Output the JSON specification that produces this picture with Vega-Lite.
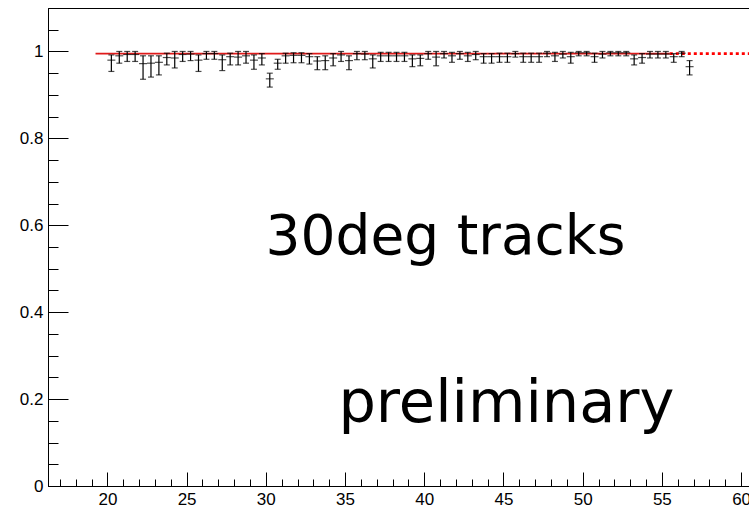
{
  "$schema": "https://vega.github.io/schema/vega-lite/v6.json",
  "width": 701,
  "height": 478,
  "autosize": {"type": "none"},
  "padding": {"left": 48, "top": 8, "right": 0, "bottom": 24},
  "background": "white",
  "config": {
    "view": {"stroke": "black", "strokeWidth": 1},
    "font": "Liberation Sans"
  },
  "datasets": {
    "eff": [
      {"x": 20.25, "y": 0.980, "lo": 0.954, "hi": 0.992},
      {"x": 20.75, "y": 0.990, "lo": 0.973, "hi": 1.0},
      {"x": 21.25, "y": 0.993, "lo": 0.977, "hi": 1.0},
      {"x": 21.75, "y": 0.993, "lo": 0.977, "hi": 1.0},
      {"x": 22.25, "y": 0.972, "lo": 0.936, "hi": 0.990},
      {"x": 22.75, "y": 0.973, "lo": 0.941, "hi": 0.990},
      {"x": 23.25, "y": 0.975, "lo": 0.946, "hi": 0.990},
      {"x": 23.75, "y": 0.986, "lo": 0.969, "hi": 0.996},
      {"x": 24.25, "y": 0.985, "lo": 0.962, "hi": 1.0},
      {"x": 24.75, "y": 0.993, "lo": 0.977, "hi": 1.0},
      {"x": 25.25, "y": 0.994, "lo": 0.979, "hi": 1.0},
      {"x": 25.75, "y": 0.980, "lo": 0.954, "hi": 0.992},
      {"x": 26.25, "y": 0.995, "lo": 0.982, "hi": 1.0},
      {"x": 26.75, "y": 0.995, "lo": 0.982, "hi": 1.0},
      {"x": 27.25, "y": 0.981, "lo": 0.956, "hi": 0.992},
      {"x": 27.75, "y": 0.988, "lo": 0.969, "hi": 0.996},
      {"x": 28.25, "y": 0.987, "lo": 0.969, "hi": 1.0},
      {"x": 28.75, "y": 0.990, "lo": 0.973, "hi": 1.0},
      {"x": 29.25, "y": 0.980, "lo": 0.959, "hi": 0.992},
      {"x": 29.75, "y": 0.985, "lo": 0.969, "hi": 0.995},
      {"x": 30.25, "y": 0.937, "lo": 0.918, "hi": 0.950},
      {"x": 30.75, "y": 0.973, "lo": 0.959, "hi": 0.982},
      {"x": 31.25, "y": 0.990, "lo": 0.973, "hi": 0.996},
      {"x": 31.75, "y": 0.991, "lo": 0.974, "hi": 0.997},
      {"x": 32.25, "y": 0.991, "lo": 0.974, "hi": 0.997},
      {"x": 32.75, "y": 0.988, "lo": 0.971, "hi": 0.995},
      {"x": 33.25, "y": 0.978, "lo": 0.958, "hi": 0.988},
      {"x": 33.75, "y": 0.979, "lo": 0.958, "hi": 0.990},
      {"x": 34.25, "y": 0.985, "lo": 0.967, "hi": 0.995},
      {"x": 34.75, "y": 0.992, "lo": 0.977, "hi": 1.0},
      {"x": 35.25, "y": 0.979, "lo": 0.958, "hi": 0.990},
      {"x": 35.75, "y": 0.995, "lo": 0.981, "hi": 1.0},
      {"x": 36.25, "y": 0.994, "lo": 0.981, "hi": 1.0},
      {"x": 36.75, "y": 0.983, "lo": 0.962, "hi": 0.992},
      {"x": 37.25, "y": 0.990, "lo": 0.977, "hi": 0.998},
      {"x": 37.75, "y": 0.990, "lo": 0.977, "hi": 0.998},
      {"x": 38.25, "y": 0.990, "lo": 0.977, "hi": 0.998},
      {"x": 38.75, "y": 0.990, "lo": 0.977, "hi": 0.998},
      {"x": 39.25, "y": 0.983, "lo": 0.965, "hi": 0.992},
      {"x": 39.75, "y": 0.984, "lo": 0.967, "hi": 0.992},
      {"x": 40.25, "y": 0.995, "lo": 0.982, "hi": 1.0},
      {"x": 40.75, "y": 0.987, "lo": 0.967, "hi": 1.0},
      {"x": 41.25, "y": 0.995, "lo": 0.985, "hi": 1.0},
      {"x": 41.75, "y": 0.990, "lo": 0.975, "hi": 0.998},
      {"x": 42.25, "y": 0.995, "lo": 0.982, "hi": 1.0},
      {"x": 42.75, "y": 0.990, "lo": 0.977, "hi": 0.998},
      {"x": 43.25, "y": 0.993, "lo": 0.981, "hi": 1.0},
      {"x": 43.75, "y": 0.988, "lo": 0.973, "hi": 0.995},
      {"x": 44.25, "y": 0.988, "lo": 0.973, "hi": 0.995},
      {"x": 44.75, "y": 0.988, "lo": 0.975, "hi": 0.996},
      {"x": 45.25, "y": 0.988, "lo": 0.975, "hi": 0.996},
      {"x": 45.75, "y": 0.995, "lo": 0.987, "hi": 1.0},
      {"x": 46.25, "y": 0.988, "lo": 0.975, "hi": 0.996},
      {"x": 46.75, "y": 0.988, "lo": 0.975, "hi": 0.996},
      {"x": 47.25, "y": 0.988, "lo": 0.975, "hi": 0.996},
      {"x": 47.75, "y": 0.996, "lo": 0.988, "hi": 1.0},
      {"x": 48.25, "y": 0.990, "lo": 0.977, "hi": 0.998},
      {"x": 48.75, "y": 0.994, "lo": 0.985, "hi": 1.0},
      {"x": 49.25, "y": 0.988, "lo": 0.973, "hi": 0.998},
      {"x": 49.75, "y": 0.997, "lo": 0.990, "hi": 1.0},
      {"x": 50.25, "y": 0.997, "lo": 0.990, "hi": 1.0},
      {"x": 50.75, "y": 0.988, "lo": 0.975, "hi": 0.996},
      {"x": 51.25, "y": 0.994, "lo": 0.985, "hi": 1.0},
      {"x": 51.75, "y": 0.997, "lo": 0.990, "hi": 1.0},
      {"x": 52.25, "y": 0.997, "lo": 0.990, "hi": 1.0},
      {"x": 52.75, "y": 0.997, "lo": 0.990, "hi": 1.0},
      {"x": 53.25, "y": 0.983, "lo": 0.969, "hi": 0.992},
      {"x": 53.75, "y": 0.986, "lo": 0.973, "hi": 0.995},
      {"x": 54.25, "y": 0.994, "lo": 0.985, "hi": 1.0},
      {"x": 54.75, "y": 0.994, "lo": 0.985, "hi": 1.0},
      {"x": 55.25, "y": 0.994, "lo": 0.985, "hi": 1.0},
      {"x": 55.75, "y": 0.988, "lo": 0.975, "hi": 0.995},
      {"x": 56.25, "y": 0.996, "lo": 0.988, "hi": 1.0},
      {"x": 56.75, "y": 0.965, "lo": 0.946, "hi": 0.979}
    ]
  },
  "encoding": {
    "x": {
      "field": "x",
      "type": "quantitative",
      "scale": {"domain": [16.25, 60.5], "nice": false, "zero": false},
      "axis": {
        "title": null,
        "grid": false,
        "values": [17, 18, 19, 20, 21, 22, 23, 24, 25, 26, 27, 28, 29, 30, 31, 32, 33, 34, 35, 36, 37, 38, 39, 40, 41, 42, 43, 44, 45, 46, 47, 48, 49, 50, 51, 52, 53, 54, 55, 56, 57, 58, 59, 60],
        "tickSize": {"condition": {"test": "datum.value % 5 === 0", "value": -14}, "value": -7},
        "labelExpr": "datum.value % 5 === 0 ? datum.label : ''",
        "labelOverlap": false,
        "labelFlush": false,
        "labelBound": false,
        "labelPadding": 19,
        "labelFont": "Liberation Sans",
        "labelFontSize": 17,
        "labelColor": "black",
        "tickColor": "black",
        "domainColor": "black",
        "tickWidth": 1,
        "domainWidth": 1
      }
    },
    "y": {
      "field": "y",
      "type": "quantitative",
      "scale": {"domain": [0, 1.1], "nice": false, "zero": false},
      "axis": {
        "title": null,
        "grid": false,
        "values": [0, 0.05, 0.1, 0.15, 0.2, 0.25, 0.3, 0.35, 0.4, 0.45, 0.5, 0.55, 0.6, 0.65, 0.7, 0.75, 0.8, 0.85, 0.9, 0.95, 1, 1.05, 1.1],
        "tickSize": {"condition": {"test": "abs(datum.value * 5 - round(datum.value * 5)) < 0.001", "value": -20}, "value": -10},
        "labelExpr": "abs(datum.value * 5 - round(datum.value * 5)) < 0.001 && datum.value < 1.05 ? format(datum.value, '~g') : ''",
        "labelOverlap": false,
        "labelFlush": false,
        "labelBound": false,
        "labelPadding": 25,
        "labelFont": "Liberation Sans",
        "labelFontSize": 17,
        "labelColor": "black",
        "tickColor": "black",
        "domainColor": "black",
        "tickWidth": 1,
        "domainWidth": 1
      }
    }
  },
  "layer": [
    {
      "data": {"values": [{"x": 19.25, "x2": 55.5, "y": 0.995}]},
      "mark": {"type": "rule", "color": "#e01a1a", "strokeWidth": 1.6},
      "encoding": {"x2": {"field": "x2"}}
    },
    {
      "data": {"values": [{"x": 55.5, "x2": 60.5, "y": 0.995}]},
      "mark": {"type": "rule", "color": "#ff0000", "strokeWidth": 2.6, "strokeDash": [3, 3]},
      "encoding": {"x2": {"field": "x2"}}
    },
    {
      "data": {"name": "eff"},
      "mark": {"type": "tick", "orient": "horizontal", "color": "black", "size": 8, "thickness": 1.2}
    },
    {
      "data": {"name": "eff"},
      "mark": {"type": "rule", "color": "black", "strokeWidth": 1.2},
      "encoding": {
        "y": {
          "field": "lo",
          "type": "quantitative",
          "scale": {"domain": [0, 1.1], "nice": false, "zero": false},
          "axis": {
            "title": null,
            "grid": false,
            "values": [0, 0.05, 0.1, 0.15, 0.2, 0.25, 0.3, 0.35, 0.4, 0.45, 0.5, 0.55, 0.6, 0.65, 0.7, 0.75, 0.8, 0.85, 0.9, 0.95, 1, 1.05, 1.1],
            "tickSize": {"condition": {"test": "abs(datum.value * 5 - round(datum.value * 5)) < 0.001", "value": -20}, "value": -10},
            "labelExpr": "abs(datum.value * 5 - round(datum.value * 5)) < 0.001 && datum.value < 1.05 ? format(datum.value, '~g') : ''",
            "labelOverlap": false,
            "labelFlush": false,
            "labelBound": false,
            "labelPadding": 25,
            "labelFont": "Liberation Sans",
            "labelFontSize": 17,
            "labelColor": "black",
            "tickColor": "black",
            "domainColor": "black",
            "tickWidth": 1,
            "domainWidth": 1
          }
        },
        "y2": {"field": "hi"}
      }
    },
    {
      "data": {"name": "eff"},
      "mark": {"type": "tick", "orient": "horizontal", "color": "black", "size": 6, "thickness": 1.2},
      "encoding": {
        "y": {
          "field": "lo",
          "type": "quantitative",
          "scale": {"domain": [0, 1.1], "nice": false, "zero": false},
          "axis": {
            "title": null,
            "grid": false,
            "values": [0, 0.05, 0.1, 0.15, 0.2, 0.25, 0.3, 0.35, 0.4, 0.45, 0.5, 0.55, 0.6, 0.65, 0.7, 0.75, 0.8, 0.85, 0.9, 0.95, 1, 1.05, 1.1],
            "tickSize": {"condition": {"test": "abs(datum.value * 5 - round(datum.value * 5)) < 0.001", "value": -20}, "value": -10},
            "labelExpr": "abs(datum.value * 5 - round(datum.value * 5)) < 0.001 && datum.value < 1.05 ? format(datum.value, '~g') : ''",
            "labelOverlap": false,
            "labelFlush": false,
            "labelBound": false,
            "labelPadding": 25,
            "labelFont": "Liberation Sans",
            "labelFontSize": 17,
            "labelColor": "black",
            "tickColor": "black",
            "domainColor": "black",
            "tickWidth": 1,
            "domainWidth": 1
          }
        }
      }
    },
    {
      "data": {"name": "eff"},
      "mark": {"type": "tick", "orient": "horizontal", "color": "black", "size": 6, "thickness": 1.2},
      "encoding": {
        "y": {
          "field": "hi",
          "type": "quantitative",
          "scale": {"domain": [0, 1.1], "nice": false, "zero": false},
          "axis": {
            "title": null,
            "grid": false,
            "values": [0, 0.05, 0.1, 0.15, 0.2, 0.25, 0.3, 0.35, 0.4, 0.45, 0.5, 0.55, 0.6, 0.65, 0.7, 0.75, 0.8, 0.85, 0.9, 0.95, 1, 1.05, 1.1],
            "tickSize": {"condition": {"test": "abs(datum.value * 5 - round(datum.value * 5)) < 0.001", "value": -20}, "value": -10},
            "labelExpr": "abs(datum.value * 5 - round(datum.value * 5)) < 0.001 && datum.value < 1.05 ? format(datum.value, '~g') : ''",
            "labelOverlap": false,
            "labelFlush": false,
            "labelBound": false,
            "labelPadding": 25,
            "labelFont": "Liberation Sans",
            "labelFontSize": 17,
            "labelColor": "black",
            "tickColor": "black",
            "domainColor": "black",
            "tickWidth": 1,
            "domainWidth": 1
          }
        }
      }
    },
    {
      "data": {"values": [{"x": 41.34, "y": 0.5335, "label": "30deg tracks"}]},
      "mark": {"type": "text", "font": "DejaVu Sans", "fontSize": 55, "align": "center", "baseline": "alphabetic", "color": "black"},
      "encoding": {"text": {"field": "label"}}
    },
    {
      "data": {"values": [{"x": 45.19, "y": 0.148, "label": "preliminary"}]},
      "mark": {"type": "text", "font": "DejaVu Sans", "fontSize": 59, "align": "center", "baseline": "alphabetic", "color": "black"},
      "encoding": {"text": {"field": "label"}}
    }
  ]
}
